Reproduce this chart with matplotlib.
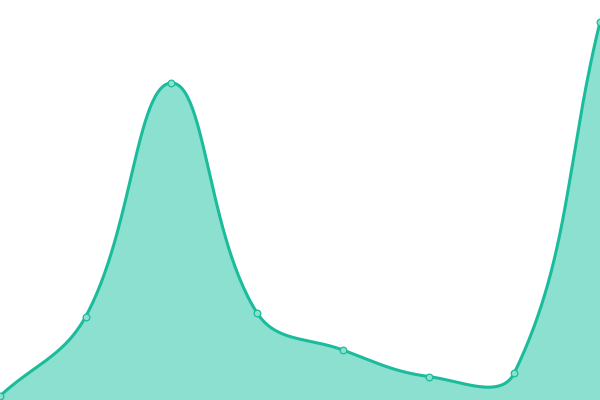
import numpy as np
import matplotlib
matplotlib.use("Agg")
import matplotlib.pyplot as plt

# values (0..400 scale, one point per category)
categories = ["A", "B", "C", "D", "E", "F", "G", "H"]
values = [4, 83.5, 317, 87, 50, 23.5, 27, 378]

LINE = "#1abc9c"
FILL = "#8ce0cf"
TENSION = 0.4
W, H = 600, 400


def spline(px, py, t=TENSION, n=60):
    # distance weighted bezier control points (chart.js style), pixel space
    k = len(px)
    cin, cout = [], []
    for i in range(k):
        p0 = (px[max(i - 1, 0)], py[max(i - 1, 0)])
        p1 = (px[i], py[i])
        p2 = (px[min(i + 1, k - 1)], py[min(i + 1, k - 1)])
        d01 = np.hypot(p1[0] - p0[0], p1[1] - p0[1])
        d12 = np.hypot(p2[0] - p1[0], p2[1] - p1[1])
        s01 = d01 / (d01 + d12) if d01 + d12 else 0
        s12 = d12 / (d01 + d12) if d01 + d12 else 0
        fa, fb = t * s01, t * s12
        cin.append((np.clip(p1[0] - fa * (p2[0] - p0[0]), 0, W),
                    np.clip(p1[1] - fa * (p2[1] - p0[1]), 0, H)))
        cout.append((np.clip(p1[0] + fb * (p2[0] - p0[0]), 0, W),
                     np.clip(p1[1] + fb * (p2[1] - p0[1]), 0, H)))
    tt = np.linspace(0, 1, n)
    xs, ys = [], []
    for i in range(k - 1):
        a = np.array([px[i], py[i]])
        b = np.array(cout[i])
        c = np.array(cin[i + 1])
        d = np.array([px[i + 1], py[i + 1]])
        seg = ((1 - tt) ** 3)[:, None] * a + (3 * (1 - tt) ** 2 * tt)[:, None] * b \
            + (3 * (1 - tt) * tt ** 2)[:, None] * c + (tt ** 3)[:, None] * d
        xs.append(seg[:, 0])
        ys.append(seg[:, 1])
    return np.concatenate(xs), np.concatenate(ys)


px = np.arange(len(categories)) * W / (len(categories) - 1)
py = np.array(values, dtype=float)
sx, sy = spline(px, py)

fig = plt.figure(figsize=(6, 4), dpi=100)
ax = fig.add_axes([0, 0, 1, 1])
ax.fill_between(sx, 0, sy, color=FILL, linewidth=0)
ax.plot(sx, sy, color=LINE, linewidth=2.2, solid_capstyle="round")
ax.plot(px, py, "o", markersize=4.8, markerfacecolor=FILL,
        markeredgecolor=LINE, markeredgewidth=0.9)
ax.set_xlim(0, W)
ax.set_ylim(0, H)
ax.axis("off")

fig.savefig("out.png", dpi=100)
